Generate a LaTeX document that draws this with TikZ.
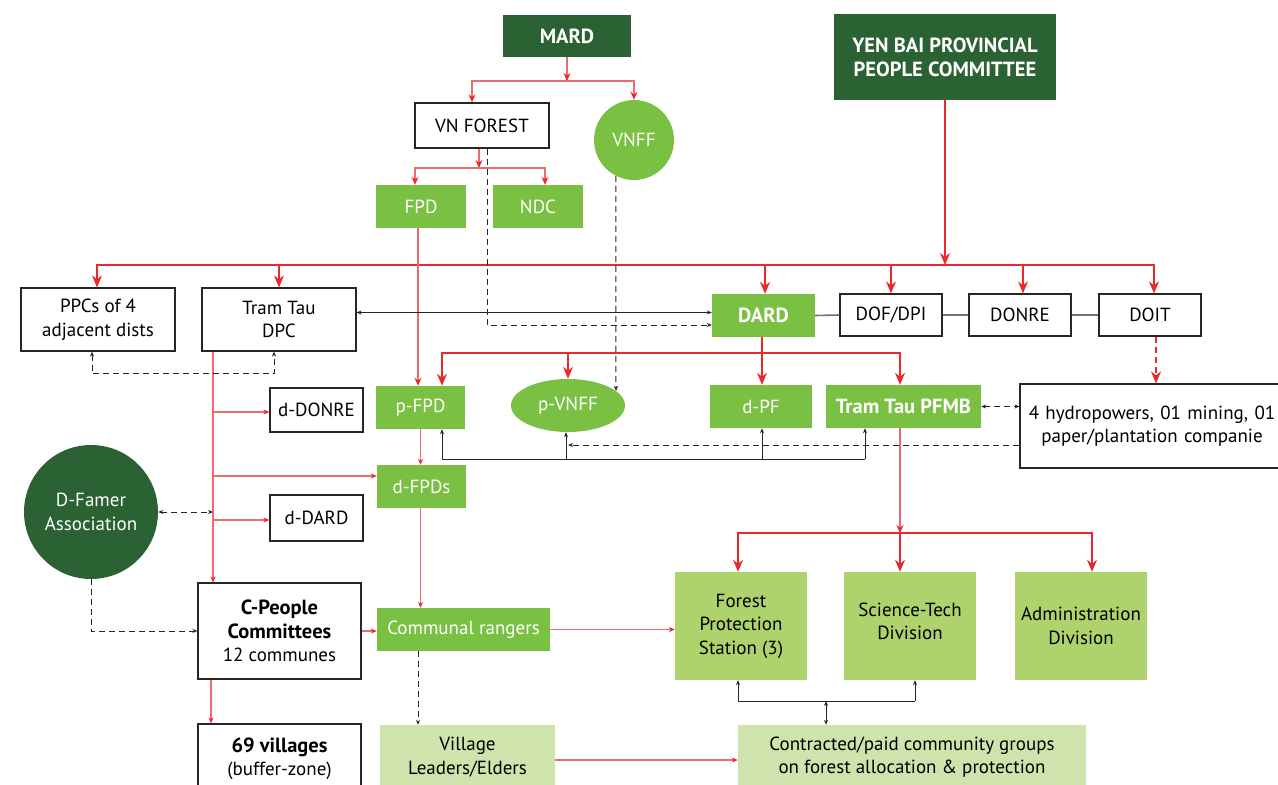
\documentclass[tikz,border=0pt]{standalone}
\usepackage{fontspec}
\setmainfont{PT Sans}
\usetikzlibrary{arrows.meta,shapes.geometric}
\definecolor{dkgreen}{RGB}{43,98,51}
\definecolor{mgreen}{RGB}{122,193,67}
\definecolor{lgreen}{RGB}{174,211,108}
\definecolor{pgreen}{RGB}{207,228,173}
\definecolor{redc}{RGB}{237,40,45}
\definecolor{redl}{RGB}{240,105,110}
\begin{document}
\begin{tikzpicture}[x=1pt,y=-1pt,
  base/.style={inner sep=0pt, align=center, font=\fontsize{19}{23.5}\selectfont},
  wbox/.style={base, draw=black!85, line width=1.2pt, fill=white},
  dbox/.style={base, fill=dkgreen, text=white, font=\fontsize{20.5}{24}\selectfont\bfseries},
  gbox/.style={base, fill=mgreen, text=white},
  lbox/.style={base, fill=lgreen},
  pbox/.style={base, fill=pgreen},
  boldtext/.style={font=\fontsize{20.5}{24}\selectfont\bfseries},
  rl/.style={draw=redc, line width=1.3pt},
  rlp/.style={draw=redl, line width=1.5pt},
  ra/.style={rl, -{Stealth[length=12pt,width=10pt,color=redc]}},
  rm/.style={rlp, -{Stealth[length=8pt,width=7pt,color=redc]}},
  rs/.style={rlp, -{Stealth[length=6pt,width=5pt,color=redc]}},
  bl/.style={draw=black!85, line width=1pt},
  ba/.style={bl, -{Stealth[length=5pt,width=4pt]}},
  bb/.style={bl, {Stealth[length=5pt,width=4pt]}-{Stealth[length=5pt,width=4pt]}},
  da/.style={ba, dash pattern=on 6pt off 4pt},
  dbb/.style={bb, dash pattern=on 6pt off 4pt},
  gl/.style={draw=black!55, line width=1.6pt}
]
\useasboundingbox (0,0) rectangle (1278,785);
\fill[white] (0,0) rectangle (1278,785);

% ---------- nodes ----------
\node[dbox, minimum width=128pt, minimum height=42pt] (MARD) at (567,36) {MARD};
\node[wbox, minimum width=134pt, minimum height=45pt] (VNF) at (482,125.5) {VN FOREST};
\node[base, circle, fill=mgreen, text=white, minimum size=80pt] (VNFF) at (634,140) {VNFF};
\node[gbox, minimum width=90pt, minimum height=43pt] (FPD) at (421,206.5) {FPD};
\node[gbox, minimum width=90pt, minimum height=43pt] (NDC) at (538,206.5) {NDC};
\node[dbox, minimum width=222pt, minimum height=86pt] (YB) at (945,57) {YEN BAI PROVINCIAL\\PEOPLE COMMITTEE};
\node[wbox, minimum width=154pt, minimum height=63pt] (PPC) at (98,319.5) {PPCs of 4\\adjacent dists};
\node[wbox, minimum width=154pt, minimum height=63pt] (TTD) at (279,319.5) {Tram Tau\\DPC};
\node[gbox, boldtext, minimum width=103pt, minimum height=43pt] (DARD) at (763.5,315.5) {DARD};
\node[wbox, minimum width=102pt, minimum height=42pt] (DOF) at (891,315) {DOF/DPI};
\node[wbox, minimum width=102pt, minimum height=42pt] (DONRE) at (1020,315) {DONRE};
\node[wbox, minimum width=102pt, minimum height=42pt] (DOIT) at (1150,315) {DOIT};
\node[gbox, minimum width=89pt, minimum height=43pt] (pFPD) at (420.5,407.5) {p-FPD};
\node[base, ellipse, fill=mgreen, text=white, minimum width=114pt, minimum height=53pt] (pVNFF) at (568,405.5) {p-VNFF};
\node[gbox, minimum width=102pt, minimum height=43pt] (dPF) at (761,406.5) {d-PF};
\node[gbox, boldtext, minimum width=155pt, minimum height=43pt] (PFMB) at (903.5,406.5) {Tram Tau PFMB};
\node[wbox, minimum width=264pt, minimum height=84pt, text width=262pt] (HYD) at (1152,426) {4 hydropowers, 01 mining, 01\\paper/plantation companie};
\node[wbox, minimum width=93pt, minimum height=44pt] (dDONRE) at (316.5,410) {d-DONRE};
\node[gbox, minimum width=89pt, minimum height=43pt] (dFPDs) at (421.5,486.5) {d-FPDs};
\node[wbox, minimum width=93pt, minimum height=46pt] (dDARD) at (316.5,518) {d-DARD};
\node[base, circle, fill=dkgreen, text=white, minimum size=134pt] (DFA) at (91,512) {D-Famer\\Association};
\node[wbox, minimum width=163pt, minimum height=96pt] (CPC) at (279.5,631) {{\fontsize{20.5}{23.5}\selectfont\bfseries C-People}\\{\fontsize{20.5}{23.5}\selectfont\bfseries Committees}\\12 communes};
\node[gbox, minimum width=173pt, minimum height=43pt] (COM) at (463.5,629.5) {Communal rangers};
\node[lbox, minimum width=132pt, minimum height=108pt] (FPS) at (741,626) {Forest\\Protection\\Station (3)};
\node[lbox, minimum width=132pt, minimum height=108pt] (ST) at (910,626) {};
\node[base] (STt) at (910,621.5) {Science-Tech\\Division};
\node[lbox, minimum width=132pt, minimum height=108pt] (ADM) at (1081,626) {Administration\\Division};
\node[wbox, minimum width=163pt, minimum height=70pt] (V69) at (279.5,759) {{\fontsize{20.5}{23.5}\selectfont\bfseries 69 villages}\\(buffer-zone)};
\node[pbox, minimum width=175pt, minimum height=64pt] (VLE) at (467.5,757) {Village\\Leaders/Elders};
\node[pbox, minimum width=348pt, minimum height=64pt] (CON) at (912,757) {Contracted/paid community groups\\on forest allocation \& protection};

% ---------- coordinates ----------
\coordinate (m1) at (567,81);
\coordinate (v1) at (479,168);
\coordinate (ybb) at (945,265);
\coordinate (db) at (762,353);
\coordinate (pb) at (900,533);
\coordinate (t1) at (213,412);
\coordinate (t2) at (213,476);
\coordinate (t3) at (213,520);
\coordinate (bb1) at (442,459);
\coordinate (bb2) at (865,459);
\coordinate (bb3) at (566,459);
\coordinate (bb4) at (762,459);
\coordinate (fb1) at (738,701);
\coordinate (fb2) at (915,701);
\coordinate (fb3) at (826,701);
\path (pVNFF.center) ++(48,-14.5) coordinate (pv1);
\path ([yshift=3pt]DARD.west) coordinate (dw);
\path ([yshift=-19pt]HYD.west) coordinate (hw);

% ---------- red connectors ----------
\draw[rm] (MARD.south) -- (m1);
\draw[rm] (m1) -| ([xshift=-10pt]VNF.north);
\draw[rm] (m1) -| (VNFF.north);
\draw[rm] (VNF.south -| v1) -- (v1);
\draw[rm] (v1) -| ([xshift=-6pt]FPD.north);
\draw[rm] (v1) -| ([xshift=7pt]NDC.north);

\draw[ra] (YB.south) -- (ybb);
\draw[ra] (ybb) -| ([xshift=-1pt]PPC.north);
\draw[ra] (ybb) -| (TTD.north);
\draw[ra] (ybb) -| ([xshift=1.5pt]DARD.north);
\draw[ra] (ybb) -| (DOF.north);
\draw[ra] (ybb) -| ([xshift=3pt]DONRE.north);
\draw[ra] (ybb) -| ([xshift=4pt]DOIT.north);

\draw[rm] ([xshift=-3pt]FPD.south) -- ([xshift=-3pt]FPD.south |- pFPD.north);

\draw[ra] (DARD.south -| db) -- (dPF.north -| db);
\draw[ra] (db) -| ([xshift=21.5pt]pFPD.north);
\draw[ra] (db) -| (pVNFF.north);
\draw[ra] (db) -| ([xshift=-3.5pt]PFMB.north);

\draw[ra, dash pattern=on 6pt off 4pt] ([xshift=6pt]DOIT.south) -- ([xshift=6pt]DOIT.south |- HYD.north);

\draw[rm] ([xshift=-3.5pt]PFMB.south) -- (pb);
\draw[ra] (pb) -| ([xshift=-3pt]FPS.north);
\draw[ra] (pb) -- (pb |- ST.north);
\draw[ra] (pb) -| ([xshift=11pt]ADM.north);

\draw[rs] (pFPD.south) -- (pFPD.south |- dFPDs.north);
\draw[rs] ([xshift=-1pt]dFPDs.south) -- ([xshift=-1pt]dFPDs.south |- COM.north);

\draw[rs] ([xshift=-66pt]TTD.south) -- ([xshift=-66pt]TTD.south |- CPC.north);
\draw[rs] (t1) -- (t1 -| dDONRE.west);
\draw[rs] (t2) -- (t2 -| dFPDs.west);
\draw[rs] (t3) -- (t3 -| dDARD.west);
\draw[rs] (CPC.east) -- (CPC.east -| COM.west);
\draw[rs] (COM.east) -- (COM.east -| FPS.west);
\draw[rs] ([xshift=-68.5pt]CPC.south) -- ([xshift=-68.5pt]CPC.south |- V69.north);
\draw[rs] ([yshift=-3pt]VLE.east) -- ([yshift=-3pt]VLE.east -| CON.west);

% ---------- grey links ----------
\draw[gl] (DARD.east) -- (DOF.west);
\draw[gl] (DOF.east) -- (DONRE.west);
\draw[gl] (DONRE.east) -- (DOIT.west);

% ---------- black connectors ----------
\draw[da] ([xshift=5pt]VNF.south) |- ([yshift=-9.5pt]DARD.west);
\draw[da] (VNFF.243) -- (pv1);
\draw[bb] (dw) -- (dw -| TTD.east);
\draw[dbb] ([xshift=-6pt]PPC.south) -- ++(0,22) -| ([xshift=-5pt]TTD.south);
\draw[dbb] (PFMB.east) -- (PFMB.east -| HYD.west);
\draw[da] (hw) -- (hw -| pVNFF.south);
\draw[bl] (bb1) -- (bb2);
\draw[ba] (bb1) -- (bb1 |- pFPD.south);
\draw[ba] (bb3) -- (bb3 |- pVNFF.south);
\draw[ba] (bb4) -- (bb4 |- dPF.south);
\draw[ba] (bb2) -- (bb2 |- PFMB.south);
\draw[bl] (fb1) -- (fb2);
\draw[ba] (fb1) -- (fb1 |- FPS.south);
\draw[ba] (fb2) -- (fb2 |- ST.south);
\draw[bb] (fb3) -- (fb3 |- CON.north);
\draw[dbb] (DFA.east) -- (DFA.east -| t1);
\draw[da] (DFA.south) |- (CPC.west);
\draw[da] ([xshift=-45.5pt]COM.south) -- ([xshift=-45.5pt]COM.south |- VLE.north);
\end{tikzpicture}
\end{document}
